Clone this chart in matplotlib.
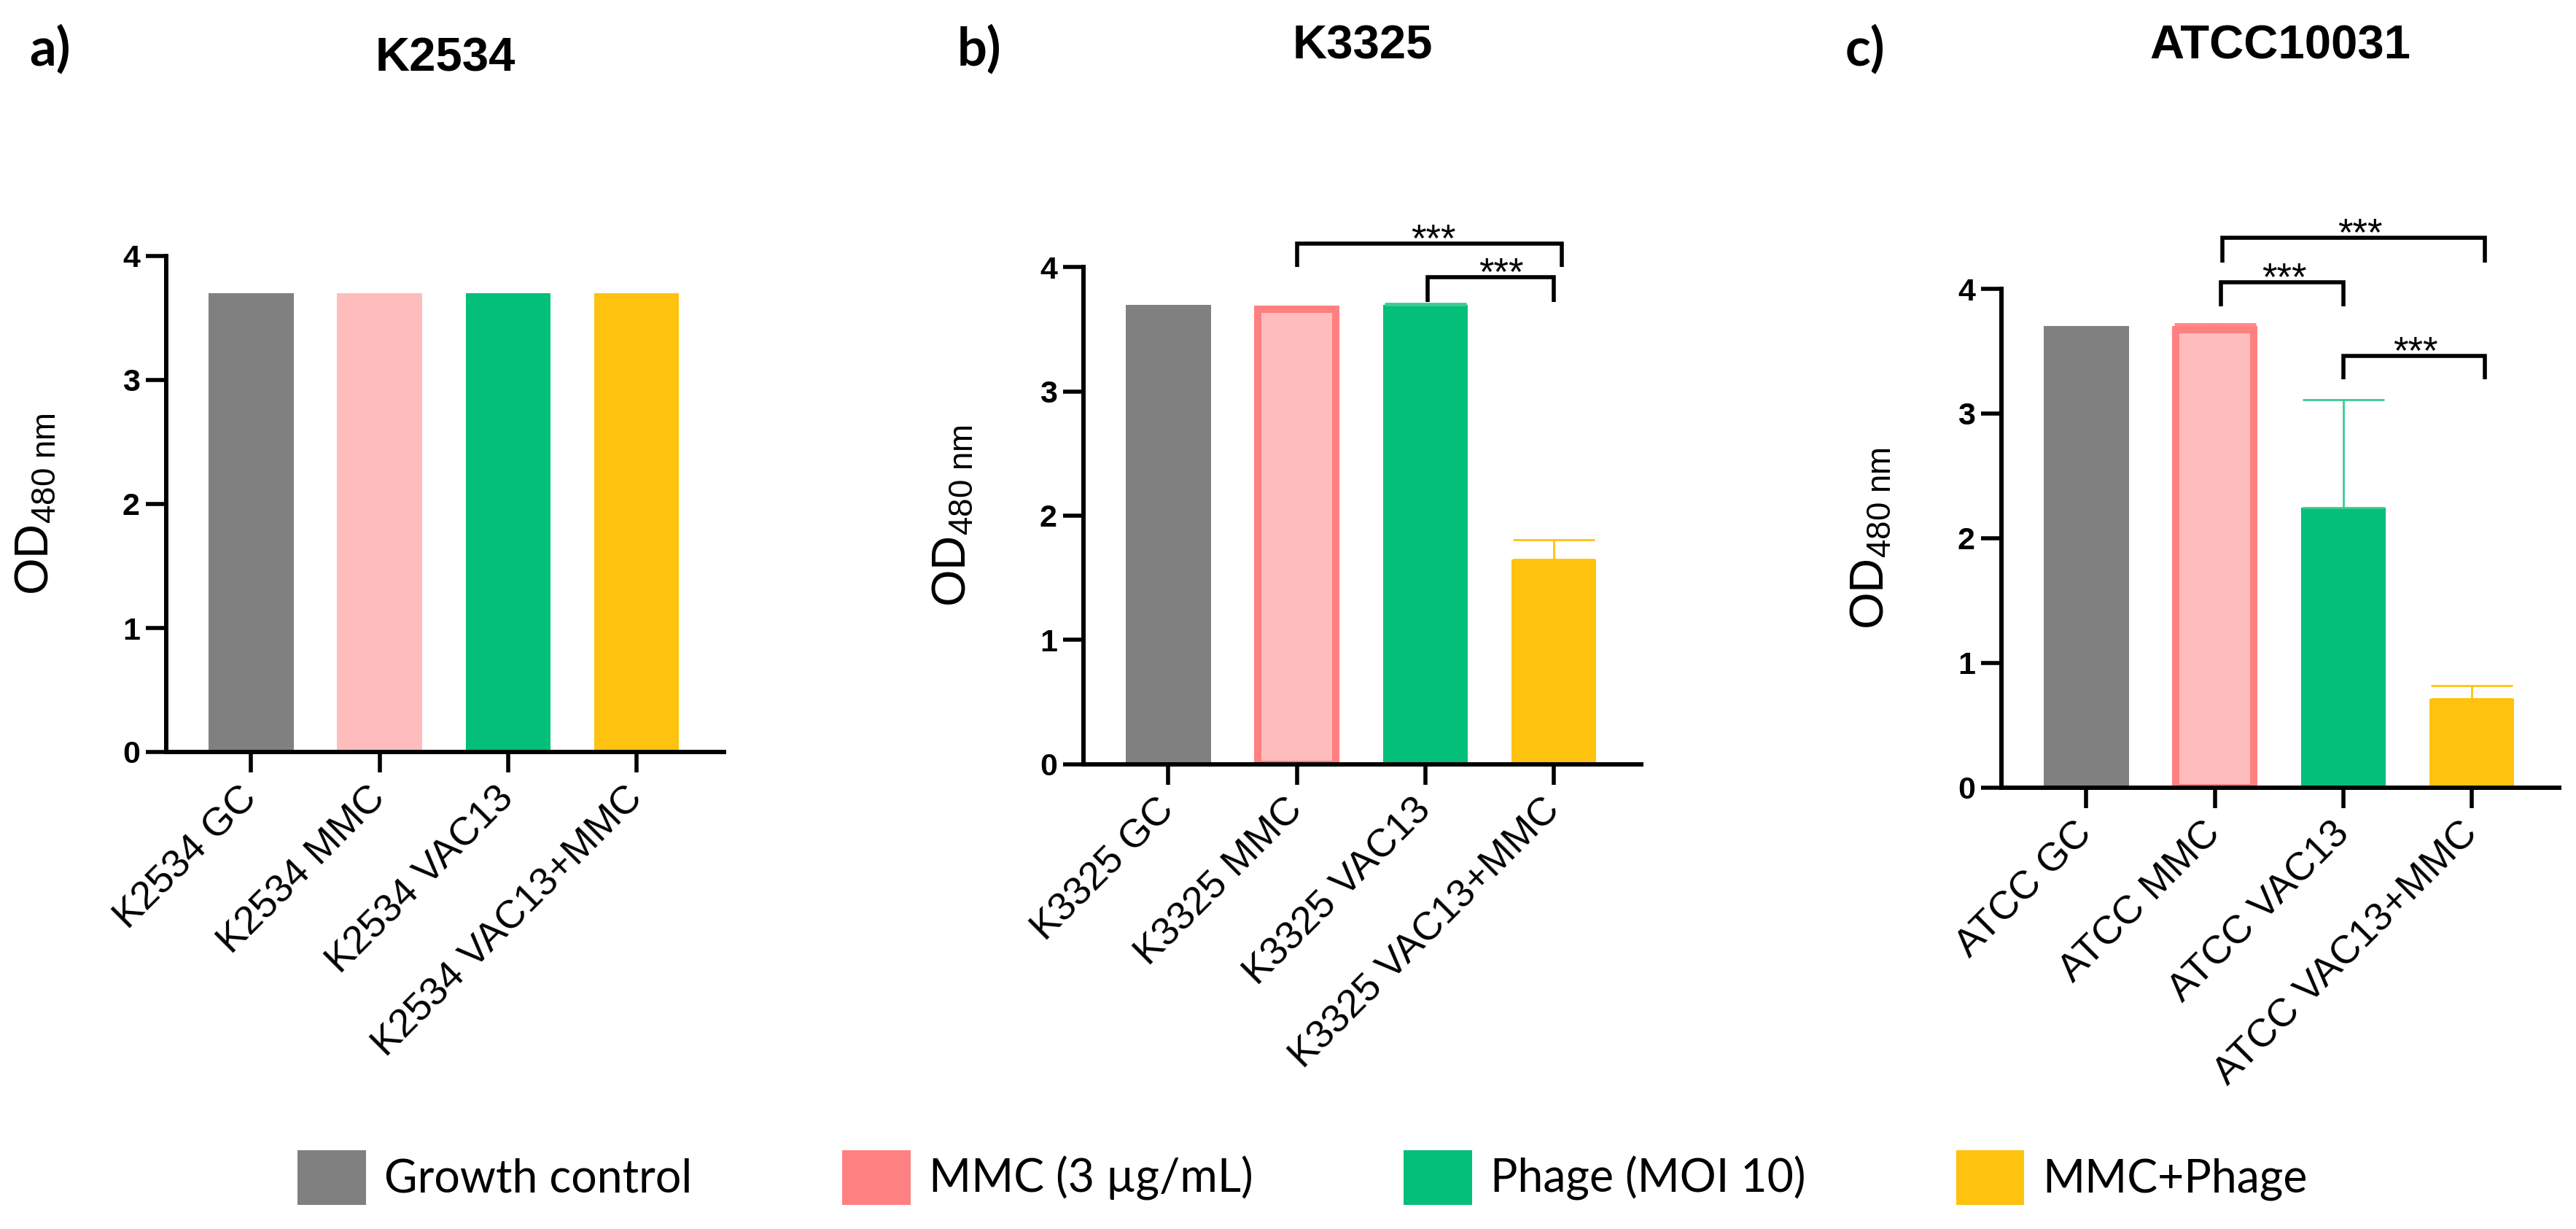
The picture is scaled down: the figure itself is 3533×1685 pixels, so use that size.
import matplotlib
matplotlib.use('Agg')
import matplotlib.pyplot as plt
from matplotlib.patches import Patch
import numpy as np

plt.rcParams['font.family'] = ['Liberation Sans', 'DejaVu Sans']
plt.rcParams['mathtext.fontset'] = 'custom'
plt.rcParams['mathtext.rm'] = 'Liberation Sans'
plt.rcParams['mathtext.it'] = 'Liberation Sans:italic'
plt.rcParams['mathtext.bf'] = 'Liberation Sans:bold'

# ---------------- data ----------------
panel_letters = ['a)', 'b)', 'c)']
titles = ['K2534', 'K3325', 'ATCC10031']
tick_labels_a = ['K2534 GC', 'K2534 MMC', 'K2534 VAC13', 'K2534 VAC13+MMC']
tick_labels_b = ['K3325 GC', 'K3325 MMC', 'K3325 VAC13', 'K3325 VAC13+MMC']
tick_labels_c = ['ATCC GC', 'ATCC MMC', 'ATCC VAC13', 'ATCC VAC13+MMC']

values_a = [3.70, 3.70, 3.70, 3.70]
errors_a = [0.0, 0.0, 0.0, 0.0]
values_b = [3.70, 3.69, 3.70, 1.65]
errors_b = [0.0, 0.0, 0.01, 0.155]
values_c = [3.70, 3.70, 2.245, 0.71]
errors_c = [0.0, 0.02, 0.865, 0.105]

legend_labels = ['Growth control', 'MMC (3 \u00b5g/mL)', 'Phage (MOI 10)', 'MMC+Phage']
legend_colors = ['#808080', '#FF8080', '#04BF7A', '#FFC20E']
bar_fill = ['#808080', '#FFBCBC', '#04BF7A', '#FFC20E']
err_colors = ['#808080', '#FF8080', '#3CCB92', '#FFC20E']
pink_edge = '#FF8080'
pink_edge_on = [False, True, True]

# significance brackets: left x, right x, line y, leg bottom y, star x
br_b_x1 = [1.00, 2.02]
br_b_x2 = [3.06, 3.00]
br_b_y = [4.19, 3.92]
br_b_leg = [4.00, 3.72]
br_b_star = [2.06, 2.59]

br_c_x1 = [1.06, 1.05, 2.00]
br_c_x2 = [3.10, 2.00, 3.10]
br_c_y = [4.41, 4.05, 3.46]
br_c_leg = [4.21, 3.86, 3.275]
br_c_star = [2.13, 1.54, 2.56]

# ---------------- layout ----------------
W, H = 3533, 1685
fig = plt.figure(figsize=(W / 100, H / 100), dpi=100)

# axes boxes in pixels: left, top(y=4), width, height
boxes = [(228, 351, 765, 680), (1486, 366.5, 765, 681), (2745, 396, 765, 683.5)]
title_base_px = [98, 81, 81]
letter_x_px = [40, 1313, 2531]

panels = [
    (values_a, errors_a, tick_labels_a, None),
    (values_b, errors_b, tick_labels_b, (br_b_x1, br_b_x2, br_b_y, br_b_leg, br_b_star)),
    (values_c, errors_c, tick_labels_c, (br_c_x1, br_c_x2, br_c_y, br_c_leg, br_c_star)),
]

bar_w = 0.66
edge_px = 10

for i, (vals, errs, tlabels, br) in enumerate(panels):
    l, t, w, h = boxes[i]
    ax = fig.add_axes([l / W, (H - t - h) / H, w / W, h / H])
    ax.set_xlim(-0.66, 3.68)
    ax.set_ylim(0, 4)
    x = np.arange(len(vals))

    # pixel per data unit
    px_x = w / (3.68 + 0.66)
    px_y = h / 4.0
    for j in range(len(vals)):
        if j == 1 and pink_edge_on[i]:
            ax.bar(x[j], vals[j] - (edge_px / 2) / px_y, width=bar_w - edge_px / px_x,
                   color=bar_fill[j], edgecolor=pink_edge, linewidth=edge_px * 0.72, zorder=2)
        else:
            ax.bar(x[j], vals[j], width=bar_w, color=bar_fill[j], linewidth=0, zorder=2)
        if errs[j] > 0:
            ax.errorbar(x[j], vals[j], yerr=[[0], [errs[j]]], fmt='none',
                        ecolor=err_colors[j], elinewidth=2, capsize=40, capthick=2,
                        zorder=3, clip_on=False)

    for side in ['top', 'right']:
        ax.spines[side].set_visible(False)
    for side in ['left', 'bottom']:
        ax.spines[side].set_linewidth(4.3)
    ax.tick_params(axis='both', direction='out', length=20, width=4, color='black')
    ax.set_yticks([0, 1, 2, 3, 4])
    ax.set_yticklabels(['0', '1', '2', '3', '4'], fontsize=31, fontweight='bold')
    ax.tick_params(axis='y', pad=6)
    ax.set_xticks(x)
    ax.set_xticklabels(tlabels, rotation=45, ha='right', va='center',
                       rotation_mode='anchor', fontsize=39)
    ax.tick_params(axis='x', pad=20)

    ax.set_ylabel(r'OD$_{\mathregular{480\ nm}}$', fontsize=47)
    ax.yaxis.set_label_coords(-0.195, 0.5)

    ax.set_title(titles[i], fontsize=47, fontweight='bold', pad=0, va='baseline',
                 y=(t - title_base_px[i]) / h + 1.0)

    fig.text(letter_x_px[i] / W, (H - 68) / H, panel_letters[i], fontsize=52,
             fontweight='bold', family=['Lato', 'DejaVu Sans'], ha='left', va='center')

    if br is not None:
        x1s, x2s, ys, legs, sx = br
        for k in range(len(ys)):
            ax.plot([x1s[k], x1s[k], x2s[k], x2s[k]], [legs[k], ys[k], ys[k], legs[k]],
                    color='black', linewidth=4, clip_on=False, solid_joinstyle='miter',
                    solid_capstyle='butt', zorder=4)
            ax.annotate('***', xy=(sx[k], ys[k]), xytext=(0, -7), textcoords='offset points',
                        ha='center', va='baseline', fontsize=38, annotation_clip=False)

handles = [Patch(facecolor=c, edgecolor='none') for c in legend_colors]
fig.legend(handles, legend_labels, loc='center', bbox_to_anchor=(0.5056, 0.0421),
           ncol=4, frameon=False, prop={'family': ['Lato', 'DejaVu Sans'], 'size': 45},
           handlelength=1.5, handleheight=1.47, handletextpad=0.4, columnspacing=3.3,
           borderpad=0, borderaxespad=0)

fig.savefig('out.png', dpi=100)
